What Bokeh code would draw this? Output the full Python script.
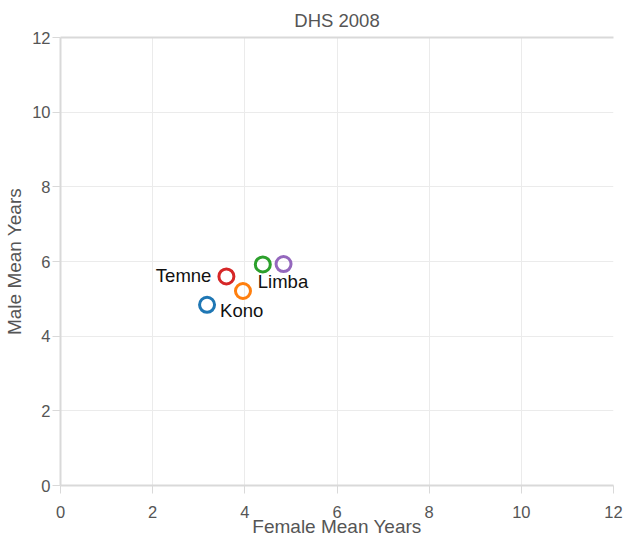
from bokeh.plotting import figure
from bokeh.models import ColumnDataSource, Range1d, FixedTicker, LinearAxis
from bokeh.core.properties import value
from bokeh.embed import file_html
from bokeh.resources import INLINE

# ---- data ----
female_years = [3.18, 3.96, 3.60, 4.39, 4.84]
male_years = [4.84, 5.21, 5.60, 5.92, 5.93]
point_colors = ["#1f77b4", "#ff7f0e", "#d62728", "#2ca02c", "#9467bd"]
point_labels = ["Kono", "", "Temne", "Limba", ""]
axis_ticks = [0, 2, 4, 6, 8, 10, 12]
title_text = "DHS 2008"
x_title = "Female Mean Years"
y_title = "Male Mean Years"

FONT = "Liberation Sans"
GREY_TEXT = "#555555"
AXIS_GREY = "#d9d9d9"
GRID_GREY = "#ebebeb"

p = figure(width=623, height=539, output_backend="svg", toolbar_location=None,
           x_range=Range1d(0, 12), y_range=Range1d(0, 12),
           min_border_left=60, min_border_right=10, min_border_top=37,
           min_border_bottom=51, title=title_text)
p.outline_line_color = None
p.background_fill_color = "white"
p.border_fill_color = "white"

p.title.text_font = FONT
p.title.text_font_size = "18.5px"
p.title.text_font_style = "normal"
p.title.text_color = GREY_TEXT
p.title.align = "center"
p.title.standoff = 14

for ax in (p.xaxis[0], p.yaxis[0]):
    ax.ticker = FixedTicker(ticks=axis_ticks)
    ax.axis_line_color = AXIS_GREY
    ax.axis_line_width = 2
    ax.major_tick_line_color = AXIS_GREY
    ax.major_tick_out = 8
    ax.major_tick_in = 0
    ax.minor_tick_line_color = None
    ax.major_label_text_font = FONT
    ax.major_label_text_font_size = "16.5px"
    ax.major_label_text_color = GREY_TEXT
    ax.axis_label_text_font = FONT
    ax.axis_label_text_font_size = "19px"
    ax.axis_label_text_font_style = "normal"
    ax.axis_label_text_color = GREY_TEXT

p.xaxis.major_label_standoff = 12
p.xaxis.axis_label_standoff = -5
p.yaxis.major_label_standoff = 2
p.yaxis.axis_label_standoff = 4

p.xaxis.axis_label = x_title
p.yaxis.axis_label = y_title

top_axis = LinearAxis(ticker=FixedTicker(ticks=[]), axis_line_color=AXIS_GREY,
                      axis_line_width=2, major_tick_line_color=None,
                      minor_tick_line_color=None, major_label_text_font_size="0px")
p.add_layout(top_axis, "above")

p.xgrid.ticker = FixedTicker(ticks=axis_ticks)
p.ygrid.ticker = FixedTicker(ticks=axis_ticks)
p.xgrid.grid_line_color = GRID_GREY
p.ygrid.grid_line_color = GRID_GREY

src = ColumnDataSource(dict(x=female_years, y=male_years, color=point_colors,
                            label=point_labels))
p.scatter("x", "y", source=src, size=15, fill_color="white", fill_alpha=0,
          line_color="color", line_width=3)

# label placement (style, not data): name -> (dx px, dy px down, align)
placement = {"Kono": (13, 6, "left"), "Temne": (-15, -1, "right"),
             "Limba": (-5, 17, "left")}
for fx, my, lab in zip(female_years, male_years, point_labels):
    if not lab:
        continue
    dx, dy, align = placement[lab]
    p.text(x=[fx], y=[my], text=[lab], x_offset=dx, y_offset=dy,
           text_align=align, text_baseline="middle",
           text_font=value(FONT), text_font_size="18.5px", text_color="#111111")

open("out.html", "w").write(file_html(p, INLINE))
